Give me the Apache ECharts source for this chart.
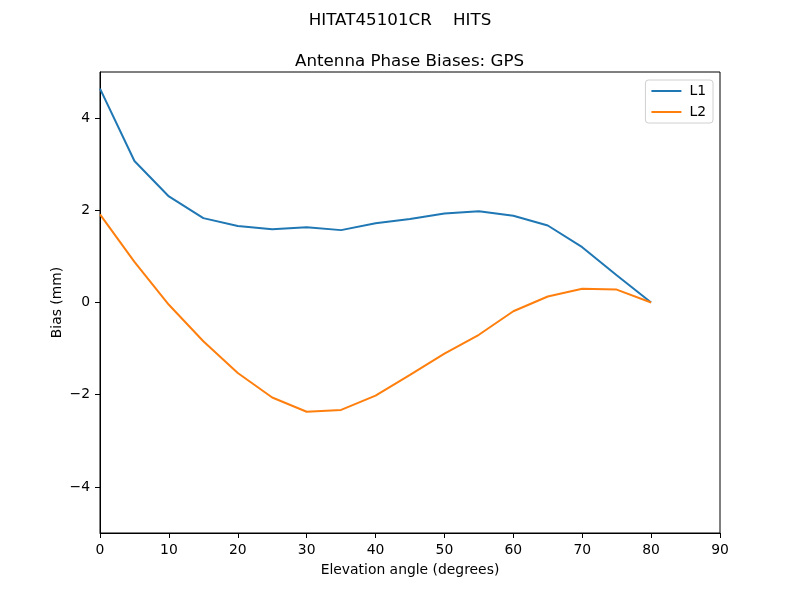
<!DOCTYPE html>
<html>
<head>
<meta charset="utf-8">
<script src="https://cdn.jsdelivr.net/npm/echarts@6/dist/echarts.min.js"></script>
<style>html,body{margin:0;padding:0;background:#fff}#c{width:800px;height:600px}</style>
</head>
<body>
<div id="c"></div>
<script>
const elevation = [0,5,10,15,20,25,30,35,40,45,50,55,60,65,70,75,80];
const L1 = [4.64,3.07,2.30,1.83,1.66,1.59,1.63,1.57,1.72,1.81,1.93,1.98,1.88,1.67,1.20,0.59,0.0];
const L2 = [1.91,0.88,-0.05,-0.84,-1.53,-2.06,-2.37,-2.33,-2.02,-1.57,-1.11,-0.70,-0.19,0.13,0.30,0.28,0.0];
const xTicks = [0,10,20,30,40,50,60,70,80,90];
const yTicks = [-4,-2,0,2,4];

const font = 'DejaVu Sans';
const chart = echarts.init(document.getElementById('c'), null, {renderer:'canvas'});
const fmt = v => (v < 0 ? '\u2212' + Math.abs(v) : String(v));
chart.setOption({
  animation: false,
  backgroundColor: '#fff',
  title: [
    {text: 'HITAT45101CR    HITS', left: 'center', top: 7, textStyle:{fontFamily:font, fontSize:16.7, fontWeight:'normal', color:'#000'}},
    {text: 'Antenna Phase Biases: GPS', left: 290, top: 48, textStyle:{fontFamily:font, fontSize:16.7, fontWeight:'normal', color:'#000'}}
  ],
  grid: {left: 100, right: 80, top: 72, bottom: 67, show: true, borderColor: '#000', borderWidth: 1, backgroundColor:'transparent'},
  legend: {
    right: 87, top: 80, orient: 'vertical', itemWidth: 30, itemHeight: 2, itemGap: 7,
    padding: [4, 7, 4, 6], borderColor: '#d0d0d0', borderWidth: 1, borderRadius: 3,
    textStyle: {fontFamily: font, fontSize: 13.9, color: '#000', padding: [0, 0, 0, 3]},
    data: [{name:'L1', icon:'rect'}, {name:'L2', icon:'rect'}]
  },
  xAxis: {
    type: 'value', min: 0, max: 90, interval: 10,
    name: 'Elevation angle (degrees)', nameLocation: 'middle', nameGap: 30,
    nameTextStyle: {fontFamily: font, fontSize: 13.9, color: '#000'},
    axisLine: {show: true, onZero: false, lineStyle: {color: '#000', width: 1}},
    axisTick: {show: true, inside: false, length: 5, lineStyle: {color: '#000'}},
    axisLabel: {fontFamily: font, fontSize: 13.9, color: '#000', margin: 10, formatter: fmt},
    splitLine: {show: false}
  },
  yAxis: {
    type: 'value', min: -5, max: 5, interval: 1,
    name: 'Bias (mm)', nameLocation: 'middle', nameGap: 36, nameMoveOverlap: false,
    nameTextStyle: {fontFamily: font, fontSize: 13.9, color: '#000'},
    axisLine: {show: true, onZero: false, lineStyle: {color: '#000', width: 1}},
    axisTick: {show: true, length: 5, lineStyle: {color: '#000'}, customValues: yTicks},
    axisLabel: {fontFamily: font, fontSize: 13.9, color: '#000', margin: 10, customValues: yTicks, formatter: fmt},
    splitLine: {show: false}
  },
  series: [
    {name: 'L1', type: 'line', data: elevation.map((x,i)=>[x, L1[i]]), symbol: 'none', lineStyle: {color: '#1f77b4', width: 2}, itemStyle:{color:'#1f77b4'}},
    {name: 'L2', type: 'line', data: elevation.map((x,i)=>[x, L2[i]]), symbol: 'none', lineStyle: {color: '#ff7f0e', width: 2}, itemStyle:{color:'#ff7f0e'}}
  ]
});
</script>
</body>
</html>
